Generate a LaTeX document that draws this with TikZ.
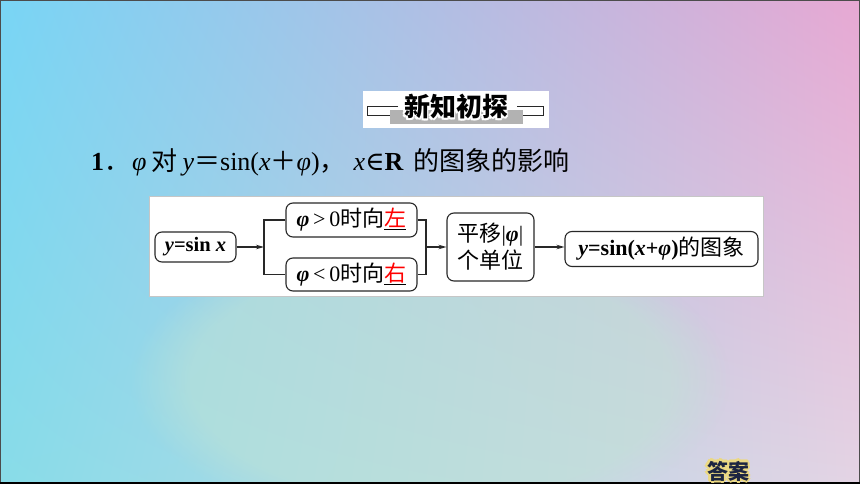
\documentclass[tikz,border=0pt]{standalone}
\usepackage{fontspec}
\setmainfont{Liberation Serif}
\newfontfamily\cjk{Noto Sans CJK SC}
\newfontfamily\dvs{DejaVu Serif}
\usetikzlibrary{arrows.meta,shadings,fadings}
\definecolor{bgTL}{RGB}{120,213,245}
\definecolor{bgTR}{RGB}{231,168,211}
\definecolor{bgBL}{RGB}{136,220,232}
\definecolor{bgBR}{RGB}{228,212,228}
\definecolor{midgreen}{RGB}{192,228,212}
\definecolor{boxline}{RGB}{40,40,40}
\definecolor{ansdark}{RGB}{28,37,65}
\definecolor{ansglow}{RGB}{236,217,130}
\tikzset{
  x=1pt, y=-1pt,
  rbox/.style={draw=boxline, line width=1.1pt, rounded corners=7pt, fill=white, inner sep=0pt},
  conn/.style={draw=boxline, line width=1.1pt},
  arr/.style={conn, -{Stealth[length=8pt,width=4.5pt]}},
  boxfont/.style={font=\fontsize{22}{27}\selectfont},
}
\newcommand{\bphi}{\textbf{\textit{φ}}}
\begin{document}
\begin{tikzpicture}
\useasboundingbox (0,0) rectangle (860,484);
% background
\shade[upper left=bgTL, upper right=bgTR, lower left=bgBL, lower right=bgBR] (0,0) rectangle (860,484);
\fill[midgreen, fill opacity=0.5, path fading=circle with fuzzy edge 20 percent, fit fading=true] (430,380) ellipse (300 and 150);
\draw[black!70, line width=1.4pt] (0.7,0.7) rectangle (859.3,483.3);
\fill[black] (0,481.5) rectangle (860,484);

% header
\fill[white] (363,91) rectangle (549,128);
\fill[gray!60] (390,110) rectangle (523,124);
\draw[boxline, line width=0.9pt] (398,106) -- (367,106) -- (367,115) -- (390,115);
\draw[boxline, line width=0.9pt] (517,106) -- (543,106) -- (543,115) -- (523,115);
\foreach \a in {0,45,...,315}
  \node[text=white, font=\cjk\bfseries\fontsize{26}{30}\selectfont, shift={(\a:1.8)}] (hw\a) at (456,107) {新知初探};
\node[text=black, font=\cjk\bfseries\fontsize{26}{30}\selectfont] (hdr) at (456,107) {新知初探};

% title line
\node[anchor=west, inner sep=0pt, font=\fontsize{26}{30}\selectfont] (title) at (91,162)
  {\textbf{1}{\cjk ．}\hspace{2pt}\textit{φ}\hspace{5pt}{\cjk 对}\hspace{5pt}\textit{y}{\cjk ＝}sin(\textit{x}{\cjk ＋}\textit{φ}){\cjk ，}\hspace{8pt}\textit{x}{\dvs ∈}\textbf{R}\hspace{10pt}{\cjk 的图象的影响}};

% panel
\draw[fill=white, draw=gray!45, line width=0.8pt] (149,196) rectangle (763,296);

% nodes
\node[rbox, minimum width=81pt, minimum height=30pt, font=\fontsize{20.5}{24}\selectfont\bfseries] (n1) at (195.5,247) {\textit{y}=sin \textit{x}};
\node[rbox, boxfont, minimum width=131pt, minimum height=34pt] (top) at (351.5,220)
  {\bphi\,>\,0{\cjk 时向}\underline{\textcolor{red}{\cjk 左}}};
\node[rbox, boxfont, minimum width=131pt, minimum height=33pt] (bot) at (351.5,274.5)
  {\bphi\,<\,0{\cjk 时向}\underline{\textcolor{red}{\cjk 右}}};
\node[rbox, boxfont, minimum width=87pt, minimum height=68pt, align=left] (move) at (490.5,247)
  {{\cjk 平移}|\bphi|\\{\cjk 个单位}};
\node[rbox, boxfont, minimum width=193pt, minimum height=35pt] (res) at (661.5,249)
  {\textbf{\textit{y}=sin(\textit{x}+\textit{φ})}{\cjk 的图象}};

% connectors
\coordinate (jl) at (264,247);
\coordinate (jr) at (426,247);
\draw[arr] (n1.east) -- (jl);
\draw[conn] (top.west) -| (jl) |- (bot.west);
\draw[conn] (top.east) -| (jr) |- (bot.east);
\draw[arr] (jr) -- (move.west);
\draw[arr] (move.east) -- (res.west |- move.east);

% answer button
\foreach \a in {0,45,...,315}
  \node[text=ansglow, font=\cjk\bfseries\fontsize{21}{24}\selectfont, shift={(\a:2.2)}] (ag\a) at (728,471) {答案};
\node[text=ansdark, font=\cjk\bfseries\fontsize{21}{24}\selectfont] (ans) at (728,471) {答案};
\end{tikzpicture}
\end{document}
